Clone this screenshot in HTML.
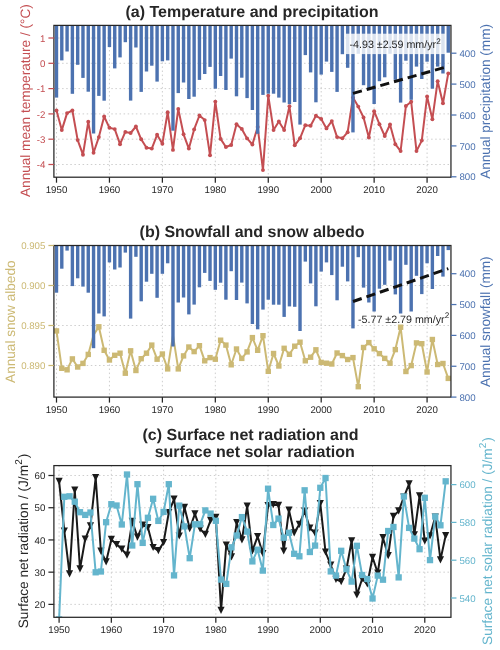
<!DOCTYPE html>
<html><head><meta charset="utf-8"><style>
html,body{margin:0;padding:0;background:#fff;width:500px;height:650px;overflow:hidden}
svg{display:block;font-family:"Liberation Sans",sans-serif;will-change:transform;text-rendering:geometricPrecision}
.grid{stroke:#c8c8c8;stroke-width:0.9;stroke-dasharray:1.5,2.6}
</style></head><body>
<svg width="500" height="650" viewBox="0 0 500 650">
<defs><clipPath id="ca"><rect x="53.9" y="25.4" width="397.05" height="151.80"/></clipPath><clipPath id="cb"><rect x="53.9" y="245.5" width="397.05" height="151.60"/></clipPath><clipPath id="cc"><rect x="53.9" y="465.6" width="397.05" height="151.70"/></clipPath></defs>
<text x="252" y="16.8" font-size="16" font-weight="bold" fill="#262626" text-anchor="middle">(a) Temperature and precipitation</text>
<line x1="56.50" y1="25.4" x2="56.50" y2="177.2" class="grid"/>
<line x1="109.44" y1="25.4" x2="109.44" y2="177.2" class="grid"/>
<line x1="162.38" y1="25.4" x2="162.38" y2="177.2" class="grid"/>
<line x1="215.32" y1="25.4" x2="215.32" y2="177.2" class="grid"/>
<line x1="268.26" y1="25.4" x2="268.26" y2="177.2" class="grid"/>
<line x1="321.20" y1="25.4" x2="321.20" y2="177.2" class="grid"/>
<line x1="374.14" y1="25.4" x2="374.14" y2="177.2" class="grid"/>
<line x1="427.08" y1="25.4" x2="427.08" y2="177.2" class="grid"/>
<line x1="53.9" y1="38.00" x2="450.95" y2="38.00" class="grid"/>
<line x1="53.9" y1="63.30" x2="450.95" y2="63.30" class="grid"/>
<line x1="53.9" y1="88.60" x2="450.95" y2="88.60" class="grid"/>
<line x1="53.9" y1="113.90" x2="450.95" y2="113.90" class="grid"/>
<line x1="53.9" y1="139.20" x2="450.95" y2="139.20" class="grid"/>
<line x1="53.9" y1="164.50" x2="450.95" y2="164.50" class="grid"/>
<polyline clip-path="url(#ca)" points="56.50,110.50 61.79,130.10 67.09,113.10 72.38,110.50 77.68,140.10 82.97,154.70 88.26,121.80 93.56,152.80 98.85,137.10 104.15,116.50 109.44,127.80 114.73,129.10 120.03,144.20 125.32,131.90 130.62,133.00 135.91,126.50 141.20,139.30 146.50,147.80 151.79,148.60 157.09,134.80 162.38,143.70 167.67,112.20 172.97,149.90 178.26,108.90 183.56,134.30 188.85,148.60 194.14,129.40 199.44,115.50 204.73,120.10 210.03,155.30 215.32,101.60 220.61,138.90 225.91,147.00 231.20,145.00 236.50,124.20 241.79,128.90 247.08,138.40 252.38,144.50 257.67,127.00 262.97,170.10 268.26,95.70 273.55,130.10 278.85,121.40 284.14,130.10 289.44,106.30 294.73,145.30 300.02,138.30 305.32,125.20 310.61,125.70 315.91,115.80 321.20,118.90 326.49,128.40 331.79,121.10 337.08,137.10 342.38,138.30 347.67,132.20 352.96,97.60 358.26,106.60 363.55,117.50 368.85,137.50 374.14,111.20 379.43,124.20 384.73,136.00 390.02,124.50 395.32,144.20 400.61,151.10 405.90,106.00 411.20,101.80 416.49,151.10 421.79,140.60 427.08,96.50 432.37,119.20 437.67,81.20 442.96,103.20 448.26,73.40" fill="none" stroke="#C44E52" stroke-width="2" stroke-linejoin="round"/>
<g clip-path="url(#ca)" fill="#C44E52">
<circle cx="56.50" cy="110.50" r="1.95"/>
<circle cx="61.79" cy="130.10" r="1.95"/>
<circle cx="67.09" cy="113.10" r="1.95"/>
<circle cx="72.38" cy="110.50" r="1.95"/>
<circle cx="77.68" cy="140.10" r="1.95"/>
<circle cx="82.97" cy="154.70" r="1.95"/>
<circle cx="88.26" cy="121.80" r="1.95"/>
<circle cx="93.56" cy="152.80" r="1.95"/>
<circle cx="98.85" cy="137.10" r="1.95"/>
<circle cx="104.15" cy="116.50" r="1.95"/>
<circle cx="109.44" cy="127.80" r="1.95"/>
<circle cx="114.73" cy="129.10" r="1.95"/>
<circle cx="120.03" cy="144.20" r="1.95"/>
<circle cx="125.32" cy="131.90" r="1.95"/>
<circle cx="130.62" cy="133.00" r="1.95"/>
<circle cx="135.91" cy="126.50" r="1.95"/>
<circle cx="141.20" cy="139.30" r="1.95"/>
<circle cx="146.50" cy="147.80" r="1.95"/>
<circle cx="151.79" cy="148.60" r="1.95"/>
<circle cx="157.09" cy="134.80" r="1.95"/>
<circle cx="162.38" cy="143.70" r="1.95"/>
<circle cx="167.67" cy="112.20" r="1.95"/>
<circle cx="172.97" cy="149.90" r="1.95"/>
<circle cx="178.26" cy="108.90" r="1.95"/>
<circle cx="183.56" cy="134.30" r="1.95"/>
<circle cx="188.85" cy="148.60" r="1.95"/>
<circle cx="194.14" cy="129.40" r="1.95"/>
<circle cx="199.44" cy="115.50" r="1.95"/>
<circle cx="204.73" cy="120.10" r="1.95"/>
<circle cx="210.03" cy="155.30" r="1.95"/>
<circle cx="215.32" cy="101.60" r="1.95"/>
<circle cx="220.61" cy="138.90" r="1.95"/>
<circle cx="225.91" cy="147.00" r="1.95"/>
<circle cx="231.20" cy="145.00" r="1.95"/>
<circle cx="236.50" cy="124.20" r="1.95"/>
<circle cx="241.79" cy="128.90" r="1.95"/>
<circle cx="247.08" cy="138.40" r="1.95"/>
<circle cx="252.38" cy="144.50" r="1.95"/>
<circle cx="257.67" cy="127.00" r="1.95"/>
<circle cx="262.97" cy="170.10" r="1.95"/>
<circle cx="268.26" cy="95.70" r="1.95"/>
<circle cx="273.55" cy="130.10" r="1.95"/>
<circle cx="278.85" cy="121.40" r="1.95"/>
<circle cx="284.14" cy="130.10" r="1.95"/>
<circle cx="289.44" cy="106.30" r="1.95"/>
<circle cx="294.73" cy="145.30" r="1.95"/>
<circle cx="300.02" cy="138.30" r="1.95"/>
<circle cx="305.32" cy="125.20" r="1.95"/>
<circle cx="310.61" cy="125.70" r="1.95"/>
<circle cx="315.91" cy="115.80" r="1.95"/>
<circle cx="321.20" cy="118.90" r="1.95"/>
<circle cx="326.49" cy="128.40" r="1.95"/>
<circle cx="331.79" cy="121.10" r="1.95"/>
<circle cx="337.08" cy="137.10" r="1.95"/>
<circle cx="342.38" cy="138.30" r="1.95"/>
<circle cx="347.67" cy="132.20" r="1.95"/>
<circle cx="352.96" cy="97.60" r="1.95"/>
<circle cx="358.26" cy="106.60" r="1.95"/>
<circle cx="363.55" cy="117.50" r="1.95"/>
<circle cx="368.85" cy="137.50" r="1.95"/>
<circle cx="374.14" cy="111.20" r="1.95"/>
<circle cx="379.43" cy="124.20" r="1.95"/>
<circle cx="384.73" cy="136.00" r="1.95"/>
<circle cx="390.02" cy="124.50" r="1.95"/>
<circle cx="395.32" cy="144.20" r="1.95"/>
<circle cx="400.61" cy="151.10" r="1.95"/>
<circle cx="405.90" cy="106.00" r="1.95"/>
<circle cx="411.20" cy="101.80" r="1.95"/>
<circle cx="416.49" cy="151.10" r="1.95"/>
<circle cx="421.79" cy="140.60" r="1.95"/>
<circle cx="427.08" cy="96.50" r="1.95"/>
<circle cx="432.37" cy="119.20" r="1.95"/>
<circle cx="437.67" cy="81.20" r="1.95"/>
<circle cx="442.96" cy="103.20" r="1.95"/>
<circle cx="448.26" cy="73.40" r="1.95"/>
</g>
<g clip-path="url(#ca)" fill="#4C72B0">
<rect x="54.80" y="23.4" width="3.4" height="74.20"/>
<rect x="60.09" y="23.4" width="3.4" height="37.00"/>
<rect x="65.39" y="23.4" width="3.4" height="28.10"/>
<rect x="70.68" y="23.4" width="3.4" height="70.40"/>
<rect x="75.98" y="23.4" width="3.4" height="41.40"/>
<rect x="81.27" y="23.4" width="3.4" height="54.50"/>
<rect x="86.56" y="23.4" width="3.4" height="68.30"/>
<rect x="91.86" y="23.4" width="3.4" height="110.10"/>
<rect x="97.15" y="23.4" width="3.4" height="72.50"/>
<rect x="102.45" y="23.4" width="3.4" height="77.30"/>
<rect x="107.74" y="23.4" width="3.4" height="23.70"/>
<rect x="113.03" y="23.4" width="3.4" height="45.00"/>
<rect x="118.33" y="23.4" width="3.4" height="34.00"/>
<rect x="123.62" y="23.4" width="3.4" height="18.80"/>
<rect x="128.92" y="23.4" width="3.4" height="77.20"/>
<rect x="134.21" y="23.4" width="3.4" height="24.10"/>
<rect x="139.50" y="23.4" width="3.4" height="68.50"/>
<rect x="144.80" y="23.4" width="3.4" height="48.10"/>
<rect x="150.09" y="23.4" width="3.4" height="42.30"/>
<rect x="155.39" y="23.4" width="3.4" height="58.20"/>
<rect x="160.68" y="23.4" width="3.4" height="37.90"/>
<rect x="165.97" y="23.4" width="3.4" height="37.00"/>
<rect x="171.27" y="23.4" width="3.4" height="107.30"/>
<rect x="176.56" y="23.4" width="3.4" height="69.70"/>
<rect x="181.86" y="23.4" width="3.4" height="59.10"/>
<rect x="187.15" y="23.4" width="3.4" height="75.60"/>
<rect x="192.44" y="23.4" width="3.4" height="73.30"/>
<rect x="197.74" y="23.4" width="3.4" height="56.50"/>
<rect x="203.03" y="23.4" width="3.4" height="50.60"/>
<rect x="208.33" y="23.4" width="3.4" height="43.50"/>
<rect x="213.62" y="23.4" width="3.4" height="65.30"/>
<rect x="218.91" y="23.4" width="3.4" height="52.60"/>
<rect x="224.21" y="23.4" width="3.4" height="66.60"/>
<rect x="229.50" y="23.4" width="3.4" height="35.20"/>
<rect x="234.80" y="23.4" width="3.4" height="72.90"/>
<rect x="240.09" y="23.4" width="3.4" height="54.30"/>
<rect x="245.38" y="23.4" width="3.4" height="74.70"/>
<rect x="250.68" y="23.4" width="3.4" height="86.60"/>
<rect x="255.97" y="23.4" width="3.4" height="110.40"/>
<rect x="261.27" y="23.4" width="3.4" height="71.50"/>
<rect x="266.56" y="23.4" width="3.4" height="70.30"/>
<rect x="271.85" y="23.4" width="3.4" height="70.30"/>
<rect x="277.15" y="23.4" width="3.4" height="74.20"/>
<rect x="282.44" y="23.4" width="3.4" height="79.10"/>
<rect x="287.74" y="23.4" width="3.4" height="80.70"/>
<rect x="293.03" y="23.4" width="3.4" height="78.60"/>
<rect x="298.32" y="23.4" width="3.4" height="101.20"/>
<rect x="303.62" y="23.4" width="3.4" height="31.70"/>
<rect x="308.91" y="23.4" width="3.4" height="49.00"/>
<rect x="314.21" y="23.4" width="3.4" height="78.90"/>
<rect x="319.50" y="23.4" width="3.4" height="51.20"/>
<rect x="324.79" y="23.4" width="3.4" height="38.20"/>
<rect x="330.09" y="23.4" width="3.4" height="48.50"/>
<rect x="335.38" y="23.4" width="3.4" height="68.50"/>
<rect x="340.68" y="23.4" width="3.4" height="30.80"/>
<rect x="345.97" y="23.4" width="3.4" height="44.40"/>
<rect x="351.26" y="23.4" width="3.4" height="109.00"/>
<rect x="356.56" y="23.4" width="3.4" height="30.40"/>
<rect x="361.85" y="23.4" width="3.4" height="61.80"/>
<rect x="367.15" y="23.4" width="3.4" height="66.80"/>
<rect x="372.44" y="23.4" width="3.4" height="80.60"/>
<rect x="377.73" y="23.4" width="3.4" height="57.80"/>
<rect x="383.03" y="23.4" width="3.4" height="53.90"/>
<rect x="388.32" y="23.4" width="3.4" height="30.40"/>
<rect x="393.62" y="23.4" width="3.4" height="56.40"/>
<rect x="398.91" y="23.4" width="3.4" height="79.20"/>
<rect x="404.20" y="23.4" width="3.4" height="37.30"/>
<rect x="409.50" y="23.4" width="3.4" height="76.40"/>
<rect x="414.79" y="23.4" width="3.4" height="43.20"/>
<rect x="420.09" y="23.4" width="3.4" height="55.60"/>
<rect x="425.38" y="23.4" width="3.4" height="38.30"/>
<rect x="430.67" y="23.4" width="3.4" height="65.30"/>
<rect x="435.97" y="23.4" width="3.4" height="43.20"/>
<rect x="441.26" y="23.4" width="3.4" height="50.10"/>
<rect x="446.56" y="23.4" width="3.4" height="29.30"/>
</g>
<line x1="353.0" y1="93.35" x2="448.3" y2="66.3" stroke="#111" stroke-width="3" stroke-dasharray="9.2,5.0"/>
<rect x="345.3" y="33.7" width="100" height="20.4" fill="#fff" fill-opacity="0.8"/>
<text x="349.5" y="48.2" font-size="10.7" fill="#262626">-4.93 ±2.59 mm/yr<tspan font-size="8.2" dy="-4.5">2</tspan></text>
<rect x="53.9" y="25.4" width="397.05" height="151.80" fill="none" stroke="#262626" stroke-width="1.25"/>
<line x1="56.50" y1="177.2" x2="56.50" y2="182.7" stroke="#262626" stroke-width="1.25"/>
<text x="56.50" y="193.0" font-size="9.7" fill="#262626" text-anchor="middle">1950</text>
<line x1="109.44" y1="177.2" x2="109.44" y2="182.7" stroke="#262626" stroke-width="1.25"/>
<text x="109.44" y="193.0" font-size="9.7" fill="#262626" text-anchor="middle">1960</text>
<line x1="162.38" y1="177.2" x2="162.38" y2="182.7" stroke="#262626" stroke-width="1.25"/>
<text x="162.38" y="193.0" font-size="9.7" fill="#262626" text-anchor="middle">1970</text>
<line x1="215.32" y1="177.2" x2="215.32" y2="182.7" stroke="#262626" stroke-width="1.25"/>
<text x="215.32" y="193.0" font-size="9.7" fill="#262626" text-anchor="middle">1980</text>
<line x1="268.26" y1="177.2" x2="268.26" y2="182.7" stroke="#262626" stroke-width="1.25"/>
<text x="268.26" y="193.0" font-size="9.7" fill="#262626" text-anchor="middle">1990</text>
<line x1="321.20" y1="177.2" x2="321.20" y2="182.7" stroke="#262626" stroke-width="1.25"/>
<text x="321.20" y="193.0" font-size="9.7" fill="#262626" text-anchor="middle">2000</text>
<line x1="374.14" y1="177.2" x2="374.14" y2="182.7" stroke="#262626" stroke-width="1.25"/>
<text x="374.14" y="193.0" font-size="9.7" fill="#262626" text-anchor="middle">2010</text>
<line x1="427.08" y1="177.2" x2="427.08" y2="182.7" stroke="#262626" stroke-width="1.25"/>
<text x="427.08" y="193.0" font-size="9.7" fill="#262626" text-anchor="middle">2020</text>
<line x1="48.4" y1="38.00" x2="53.9" y2="38.00" stroke="#C44E52" stroke-width="1.25"/>
<text x="45.4" y="41.60" font-size="9.7" fill="#C44E52" text-anchor="end">1</text>
<line x1="48.4" y1="63.30" x2="53.9" y2="63.30" stroke="#C44E52" stroke-width="1.25"/>
<text x="45.4" y="66.90" font-size="9.7" fill="#C44E52" text-anchor="end">0</text>
<line x1="48.4" y1="88.60" x2="53.9" y2="88.60" stroke="#C44E52" stroke-width="1.25"/>
<text x="45.4" y="92.20" font-size="9.7" fill="#C44E52" text-anchor="end">-1</text>
<line x1="48.4" y1="113.90" x2="53.9" y2="113.90" stroke="#C44E52" stroke-width="1.25"/>
<text x="45.4" y="117.50" font-size="9.7" fill="#C44E52" text-anchor="end">-2</text>
<line x1="48.4" y1="139.20" x2="53.9" y2="139.20" stroke="#C44E52" stroke-width="1.25"/>
<text x="45.4" y="142.80" font-size="9.7" fill="#C44E52" text-anchor="end">-3</text>
<line x1="48.4" y1="164.50" x2="53.9" y2="164.50" stroke="#C44E52" stroke-width="1.25"/>
<text x="45.4" y="168.10" font-size="9.7" fill="#C44E52" text-anchor="end">-4</text>
<line x1="450.95" y1="53.20" x2="456.45" y2="53.20" stroke="#4C72B0" stroke-width="1.25"/>
<text x="459.45" y="56.80" font-size="9.7" fill="#4C72B0" text-anchor="start">400</text>
<line x1="450.95" y1="84.10" x2="456.45" y2="84.10" stroke="#4C72B0" stroke-width="1.25"/>
<text x="459.45" y="87.70" font-size="9.7" fill="#4C72B0" text-anchor="start">500</text>
<line x1="450.95" y1="115.00" x2="456.45" y2="115.00" stroke="#4C72B0" stroke-width="1.25"/>
<text x="459.45" y="118.60" font-size="9.7" fill="#4C72B0" text-anchor="start">600</text>
<line x1="450.95" y1="145.90" x2="456.45" y2="145.90" stroke="#4C72B0" stroke-width="1.25"/>
<text x="459.45" y="149.50" font-size="9.7" fill="#4C72B0" text-anchor="start">700</text>
<line x1="450.95" y1="176.80" x2="456.45" y2="176.80" stroke="#4C72B0" stroke-width="1.25"/>
<text x="459.45" y="180.40" font-size="9.7" fill="#4C72B0" text-anchor="start">800</text>
<text x="30.4" y="100.6" font-size="13.6" fill="#C44E52" text-anchor="middle" transform="rotate(-90 30.4 100.6)">Annual mean temperature / (°C)</text>
<text x="490" y="101.4" font-size="13.6" fill="#4C72B0" text-anchor="middle" transform="rotate(-90 490 101.4)">Annual precipitation (mm)</text>
<text x="252" y="236.9" font-size="16" font-weight="bold" fill="#262626" text-anchor="middle">(b) Snowfall and snow albedo</text>
<line x1="56.50" y1="245.5" x2="56.50" y2="397.1" class="grid"/>
<line x1="109.44" y1="245.5" x2="109.44" y2="397.1" class="grid"/>
<line x1="162.38" y1="245.5" x2="162.38" y2="397.1" class="grid"/>
<line x1="215.32" y1="245.5" x2="215.32" y2="397.1" class="grid"/>
<line x1="268.26" y1="245.5" x2="268.26" y2="397.1" class="grid"/>
<line x1="321.20" y1="245.5" x2="321.20" y2="397.1" class="grid"/>
<line x1="374.14" y1="245.5" x2="374.14" y2="397.1" class="grid"/>
<line x1="427.08" y1="245.5" x2="427.08" y2="397.1" class="grid"/>
<line x1="53.9" y1="245.50" x2="450.95" y2="245.50" class="grid"/>
<line x1="53.9" y1="285.50" x2="450.95" y2="285.50" class="grid"/>
<line x1="53.9" y1="325.50" x2="450.95" y2="325.50" class="grid"/>
<line x1="53.9" y1="365.50" x2="450.95" y2="365.50" class="grid"/>
<polyline clip-path="url(#cb)" points="56.50,330.90 61.79,368.30 67.09,369.80 72.38,358.90 77.68,367.00 82.97,363.40 88.26,354.40 93.56,335.00 98.85,326.80 104.15,350.30 109.44,360.00 114.73,355.30 120.03,353.20 125.32,373.20 130.62,350.80 135.91,370.50 141.20,358.70 146.50,353.20 151.79,345.10 157.09,359.20 162.38,354.00 167.67,368.90 172.97,335.40 178.26,368.90 183.56,355.90 188.85,347.00 194.14,351.60 199.44,345.70 204.73,360.80 210.03,357.60 215.32,359.20 220.61,340.20 225.91,345.10 231.20,364.80 236.50,349.00 241.79,358.40 247.08,351.90 252.38,337.60 257.67,350.30 262.97,335.70 268.26,371.30 273.55,353.50 278.85,366.00 284.14,348.30 289.44,354.30 294.73,346.20 300.02,342.20 305.32,360.80 310.61,357.20 315.91,349.80 321.20,362.40 326.49,363.20 331.79,364.00 337.08,353.00 342.38,355.60 347.67,359.50 352.96,357.60 358.26,386.70 363.55,347.50 368.85,342.60 374.14,348.80 379.43,353.60 384.73,358.40 390.02,363.20 395.32,349.60 400.61,327.20 405.90,371.50 411.20,365.60 416.49,342.90 421.79,343.70 427.08,372.00 432.37,339.50 437.67,364.50 442.96,363.50 448.26,378.40" fill="none" stroke="#CCB974" stroke-width="2" stroke-linejoin="round"/>
<g clip-path="url(#cb)" fill="#CCB974">
<rect x="53.80" y="328.20" width="5.4" height="5.4"/>
<rect x="59.09" y="365.60" width="5.4" height="5.4"/>
<rect x="64.39" y="367.10" width="5.4" height="5.4"/>
<rect x="69.68" y="356.20" width="5.4" height="5.4"/>
<rect x="74.98" y="364.30" width="5.4" height="5.4"/>
<rect x="80.27" y="360.70" width="5.4" height="5.4"/>
<rect x="85.56" y="351.70" width="5.4" height="5.4"/>
<rect x="96.15" y="324.10" width="5.4" height="5.4"/>
<rect x="101.45" y="347.60" width="5.4" height="5.4"/>
<rect x="106.74" y="357.30" width="5.4" height="5.4"/>
<rect x="112.03" y="352.60" width="5.4" height="5.4"/>
<rect x="117.33" y="350.50" width="5.4" height="5.4"/>
<rect x="122.62" y="370.50" width="5.4" height="5.4"/>
<rect x="127.92" y="348.10" width="5.4" height="5.4"/>
<rect x="133.21" y="367.80" width="5.4" height="5.4"/>
<rect x="138.50" y="356.00" width="5.4" height="5.4"/>
<rect x="143.80" y="350.50" width="5.4" height="5.4"/>
<rect x="149.09" y="342.40" width="5.4" height="5.4"/>
<rect x="154.39" y="356.50" width="5.4" height="5.4"/>
<rect x="159.68" y="351.30" width="5.4" height="5.4"/>
<rect x="164.97" y="366.20" width="5.4" height="5.4"/>
<rect x="175.56" y="366.20" width="5.4" height="5.4"/>
<rect x="180.86" y="353.20" width="5.4" height="5.4"/>
<rect x="186.15" y="344.30" width="5.4" height="5.4"/>
<rect x="191.44" y="348.90" width="5.4" height="5.4"/>
<rect x="196.74" y="343.00" width="5.4" height="5.4"/>
<rect x="202.03" y="358.10" width="5.4" height="5.4"/>
<rect x="207.33" y="354.90" width="5.4" height="5.4"/>
<rect x="212.62" y="356.50" width="5.4" height="5.4"/>
<rect x="217.91" y="337.50" width="5.4" height="5.4"/>
<rect x="223.21" y="342.40" width="5.4" height="5.4"/>
<rect x="228.50" y="362.10" width="5.4" height="5.4"/>
<rect x="233.80" y="346.30" width="5.4" height="5.4"/>
<rect x="239.09" y="355.70" width="5.4" height="5.4"/>
<rect x="244.38" y="349.20" width="5.4" height="5.4"/>
<rect x="249.68" y="334.90" width="5.4" height="5.4"/>
<rect x="254.97" y="347.60" width="5.4" height="5.4"/>
<rect x="260.27" y="333.00" width="5.4" height="5.4"/>
<rect x="265.56" y="368.60" width="5.4" height="5.4"/>
<rect x="270.85" y="350.80" width="5.4" height="5.4"/>
<rect x="276.15" y="363.30" width="5.4" height="5.4"/>
<rect x="281.44" y="345.60" width="5.4" height="5.4"/>
<rect x="286.74" y="351.60" width="5.4" height="5.4"/>
<rect x="292.03" y="343.50" width="5.4" height="5.4"/>
<rect x="297.32" y="339.50" width="5.4" height="5.4"/>
<rect x="302.62" y="358.10" width="5.4" height="5.4"/>
<rect x="307.91" y="354.50" width="5.4" height="5.4"/>
<rect x="313.21" y="347.10" width="5.4" height="5.4"/>
<rect x="318.50" y="359.70" width="5.4" height="5.4"/>
<rect x="323.79" y="360.50" width="5.4" height="5.4"/>
<rect x="329.09" y="361.30" width="5.4" height="5.4"/>
<rect x="334.38" y="350.30" width="5.4" height="5.4"/>
<rect x="339.68" y="352.90" width="5.4" height="5.4"/>
<rect x="344.97" y="356.80" width="5.4" height="5.4"/>
<rect x="350.26" y="354.90" width="5.4" height="5.4"/>
<rect x="355.56" y="384.00" width="5.4" height="5.4"/>
<rect x="360.85" y="344.80" width="5.4" height="5.4"/>
<rect x="366.15" y="339.90" width="5.4" height="5.4"/>
<rect x="371.44" y="346.10" width="5.4" height="5.4"/>
<rect x="376.73" y="350.90" width="5.4" height="5.4"/>
<rect x="382.03" y="355.70" width="5.4" height="5.4"/>
<rect x="387.32" y="360.50" width="5.4" height="5.4"/>
<rect x="392.62" y="346.90" width="5.4" height="5.4"/>
<rect x="397.91" y="324.50" width="5.4" height="5.4"/>
<rect x="403.20" y="368.80" width="5.4" height="5.4"/>
<rect x="408.50" y="362.90" width="5.4" height="5.4"/>
<rect x="413.79" y="340.20" width="5.4" height="5.4"/>
<rect x="419.09" y="341.00" width="5.4" height="5.4"/>
<rect x="424.38" y="369.30" width="5.4" height="5.4"/>
<rect x="429.67" y="336.80" width="5.4" height="5.4"/>
<rect x="434.97" y="361.80" width="5.4" height="5.4"/>
<rect x="440.26" y="360.80" width="5.4" height="5.4"/>
<rect x="445.56" y="375.70" width="5.4" height="5.4"/>
</g>
<g clip-path="url(#cb)" fill="#4C72B0">
<rect x="54.80" y="243.5" width="3.4" height="49.20"/>
<rect x="60.09" y="243.5" width="3.4" height="25.20"/>
<rect x="65.39" y="243.5" width="3.4" height="7.10"/>
<rect x="70.68" y="243.5" width="3.4" height="42.60"/>
<rect x="75.98" y="243.5" width="3.4" height="34.80"/>
<rect x="81.27" y="243.5" width="3.4" height="43.10"/>
<rect x="86.56" y="243.5" width="3.4" height="49.20"/>
<rect x="91.86" y="243.5" width="3.4" height="104.70"/>
<rect x="97.15" y="243.5" width="3.4" height="70.00"/>
<rect x="102.45" y="243.5" width="3.4" height="72.90"/>
<rect x="107.74" y="243.5" width="3.4" height="18.90"/>
<rect x="113.03" y="243.5" width="3.4" height="26.00"/>
<rect x="118.33" y="243.5" width="3.4" height="24.00"/>
<rect x="123.62" y="243.5" width="3.4" height="9.10"/>
<rect x="128.92" y="243.5" width="3.4" height="75.10"/>
<rect x="134.21" y="243.5" width="3.4" height="13.30"/>
<rect x="139.50" y="243.5" width="3.4" height="57.80"/>
<rect x="144.80" y="243.5" width="3.4" height="38.20"/>
<rect x="150.09" y="243.5" width="3.4" height="30.30"/>
<rect x="155.39" y="243.5" width="3.4" height="54.30"/>
<rect x="160.68" y="243.5" width="3.4" height="30.30"/>
<rect x="165.97" y="243.5" width="3.4" height="19.80"/>
<rect x="171.27" y="243.5" width="3.4" height="103.00"/>
<rect x="176.56" y="243.5" width="3.4" height="59.00"/>
<rect x="181.86" y="243.5" width="3.4" height="54.00"/>
<rect x="187.15" y="243.5" width="3.4" height="70.90"/>
<rect x="192.44" y="243.5" width="3.4" height="61.10"/>
<rect x="197.74" y="243.5" width="3.4" height="43.80"/>
<rect x="203.03" y="243.5" width="3.4" height="29.40"/>
<rect x="208.33" y="243.5" width="3.4" height="37.40"/>
<rect x="213.62" y="243.5" width="3.4" height="46.30"/>
<rect x="218.91" y="243.5" width="3.4" height="39.20"/>
<rect x="224.21" y="243.5" width="3.4" height="56.20"/>
<rect x="229.50" y="243.5" width="3.4" height="27.70"/>
<rect x="234.80" y="243.5" width="3.4" height="56.50"/>
<rect x="240.09" y="243.5" width="3.4" height="39.10"/>
<rect x="245.38" y="243.5" width="3.4" height="59.90"/>
<rect x="250.68" y="243.5" width="3.4" height="80.50"/>
<rect x="255.97" y="243.5" width="3.4" height="85.80"/>
<rect x="261.27" y="243.5" width="3.4" height="66.10"/>
<rect x="266.56" y="243.5" width="3.4" height="56.20"/>
<rect x="271.85" y="243.5" width="3.4" height="61.20"/>
<rect x="277.15" y="243.5" width="3.4" height="61.20"/>
<rect x="282.44" y="243.5" width="3.4" height="73.40"/>
<rect x="287.74" y="243.5" width="3.4" height="62.90"/>
<rect x="293.03" y="243.5" width="3.4" height="63.30"/>
<rect x="298.32" y="243.5" width="3.4" height="87.50"/>
<rect x="303.62" y="243.5" width="3.4" height="18.10"/>
<rect x="308.91" y="243.5" width="3.4" height="39.90"/>
<rect x="314.21" y="243.5" width="3.4" height="62.80"/>
<rect x="319.50" y="243.5" width="3.4" height="28.10"/>
<rect x="324.79" y="243.5" width="3.4" height="18.90"/>
<rect x="330.09" y="243.5" width="3.4" height="31.60"/>
<rect x="335.38" y="243.5" width="3.4" height="56.80"/>
<rect x="340.68" y="243.5" width="3.4" height="23.20"/>
<rect x="345.97" y="243.5" width="3.4" height="37.90"/>
<rect x="351.26" y="243.5" width="3.4" height="84.90"/>
<rect x="356.56" y="243.5" width="3.4" height="13.70"/>
<rect x="361.85" y="243.5" width="3.4" height="44.10"/>
<rect x="367.15" y="243.5" width="3.4" height="59.00"/>
<rect x="372.44" y="243.5" width="3.4" height="68.00"/>
<rect x="377.73" y="243.5" width="3.4" height="45.20"/>
<rect x="383.03" y="243.5" width="3.4" height="41.30"/>
<rect x="388.32" y="243.5" width="3.4" height="17.10"/>
<rect x="393.62" y="243.5" width="3.4" height="50.90"/>
<rect x="398.91" y="243.5" width="3.4" height="70.00"/>
<rect x="404.20" y="243.5" width="3.4" height="21.30"/>
<rect x="409.50" y="243.5" width="3.4" height="68.00"/>
<rect x="414.79" y="243.5" width="3.4" height="32.30"/>
<rect x="420.09" y="243.5" width="3.4" height="50.60"/>
<rect x="425.38" y="243.5" width="3.4" height="19.80"/>
<rect x="430.67" y="243.5" width="3.4" height="45.50"/>
<rect x="435.97" y="243.5" width="3.4" height="12.50"/>
<rect x="441.26" y="243.5" width="3.4" height="33.10"/>
<rect x="446.56" y="243.5" width="3.4" height="6.60"/>
</g>
<line x1="353.0" y1="301.5" x2="448.3" y2="268.6" stroke="#111" stroke-width="3" stroke-dasharray="9.2,5.0"/>
<text x="358" y="322.6" font-size="10.7" fill="#262626">-5.77 ±2.79 mm/yr<tspan font-size="8.2" dy="-4.5">2</tspan></text>
<rect x="53.9" y="245.5" width="397.05" height="151.60" fill="none" stroke="#262626" stroke-width="1.25"/>
<line x1="56.50" y1="397.1" x2="56.50" y2="402.6" stroke="#262626" stroke-width="1.25"/>
<text x="56.50" y="413.0" font-size="9.7" fill="#262626" text-anchor="middle">1950</text>
<line x1="109.44" y1="397.1" x2="109.44" y2="402.6" stroke="#262626" stroke-width="1.25"/>
<text x="109.44" y="413.0" font-size="9.7" fill="#262626" text-anchor="middle">1960</text>
<line x1="162.38" y1="397.1" x2="162.38" y2="402.6" stroke="#262626" stroke-width="1.25"/>
<text x="162.38" y="413.0" font-size="9.7" fill="#262626" text-anchor="middle">1970</text>
<line x1="215.32" y1="397.1" x2="215.32" y2="402.6" stroke="#262626" stroke-width="1.25"/>
<text x="215.32" y="413.0" font-size="9.7" fill="#262626" text-anchor="middle">1980</text>
<line x1="268.26" y1="397.1" x2="268.26" y2="402.6" stroke="#262626" stroke-width="1.25"/>
<text x="268.26" y="413.0" font-size="9.7" fill="#262626" text-anchor="middle">1990</text>
<line x1="321.20" y1="397.1" x2="321.20" y2="402.6" stroke="#262626" stroke-width="1.25"/>
<text x="321.20" y="413.0" font-size="9.7" fill="#262626" text-anchor="middle">2000</text>
<line x1="374.14" y1="397.1" x2="374.14" y2="402.6" stroke="#262626" stroke-width="1.25"/>
<text x="374.14" y="413.0" font-size="9.7" fill="#262626" text-anchor="middle">2010</text>
<line x1="427.08" y1="397.1" x2="427.08" y2="402.6" stroke="#262626" stroke-width="1.25"/>
<text x="427.08" y="413.0" font-size="9.7" fill="#262626" text-anchor="middle">2020</text>
<line x1="48.4" y1="245.50" x2="53.9" y2="245.50" stroke="#CCB974" stroke-width="1.25"/>
<text x="45.4" y="249.10" font-size="9.7" fill="#CCB974" text-anchor="end">0.905</text>
<line x1="48.4" y1="285.50" x2="53.9" y2="285.50" stroke="#CCB974" stroke-width="1.25"/>
<text x="45.4" y="289.10" font-size="9.7" fill="#CCB974" text-anchor="end">0.900</text>
<line x1="48.4" y1="325.50" x2="53.9" y2="325.50" stroke="#CCB974" stroke-width="1.25"/>
<text x="45.4" y="329.10" font-size="9.7" fill="#CCB974" text-anchor="end">0.895</text>
<line x1="48.4" y1="365.50" x2="53.9" y2="365.50" stroke="#CCB974" stroke-width="1.25"/>
<text x="45.4" y="369.10" font-size="9.7" fill="#CCB974" text-anchor="end">0.890</text>
<line x1="450.95" y1="273.70" x2="456.45" y2="273.70" stroke="#4C72B0" stroke-width="1.25"/>
<text x="459.45" y="277.30" font-size="9.7" fill="#4C72B0" text-anchor="start">400</text>
<line x1="450.95" y1="304.55" x2="456.45" y2="304.55" stroke="#4C72B0" stroke-width="1.25"/>
<text x="459.45" y="308.15" font-size="9.7" fill="#4C72B0" text-anchor="start">500</text>
<line x1="450.95" y1="335.40" x2="456.45" y2="335.40" stroke="#4C72B0" stroke-width="1.25"/>
<text x="459.45" y="339.00" font-size="9.7" fill="#4C72B0" text-anchor="start">600</text>
<line x1="450.95" y1="366.25" x2="456.45" y2="366.25" stroke="#4C72B0" stroke-width="1.25"/>
<text x="459.45" y="369.85" font-size="9.7" fill="#4C72B0" text-anchor="start">700</text>
<line x1="450.95" y1="397.10" x2="456.45" y2="397.10" stroke="#4C72B0" stroke-width="1.25"/>
<text x="459.45" y="400.70" font-size="9.7" fill="#4C72B0" text-anchor="start">800</text>
<text x="14.8" y="321.7" font-size="13.6" fill="#CCB974" text-anchor="middle" transform="rotate(-90 14.8 321.7)">Annual snow albedo</text>
<text x="490" y="321.7" font-size="13.6" fill="#4C72B0" text-anchor="middle" transform="rotate(-90 490 321.7)">Annual snowfall (mm)</text>
<text x="250.5" y="439.6" font-size="16" font-weight="bold" fill="#262626" text-anchor="middle">(c) Surface net radiation and</text>
<text x="254.7" y="457.2" font-size="16" font-weight="bold" fill="#262626" text-anchor="middle">surface net solar radiation</text>
<line x1="59.10" y1="465.6" x2="59.10" y2="617.3" class="grid"/>
<line x1="111.34" y1="465.6" x2="111.34" y2="617.3" class="grid"/>
<line x1="163.58" y1="465.6" x2="163.58" y2="617.3" class="grid"/>
<line x1="215.82" y1="465.6" x2="215.82" y2="617.3" class="grid"/>
<line x1="268.06" y1="465.6" x2="268.06" y2="617.3" class="grid"/>
<line x1="320.30" y1="465.6" x2="320.30" y2="617.3" class="grid"/>
<line x1="372.54" y1="465.6" x2="372.54" y2="617.3" class="grid"/>
<line x1="424.78" y1="465.6" x2="424.78" y2="617.3" class="grid"/>
<line x1="53.9" y1="475.50" x2="450.95" y2="475.50" class="grid"/>
<line x1="53.9" y1="507.72" x2="450.95" y2="507.72" class="grid"/>
<line x1="53.9" y1="539.94" x2="450.95" y2="539.94" class="grid"/>
<line x1="53.9" y1="572.16" x2="450.95" y2="572.16" class="grid"/>
<line x1="53.9" y1="604.38" x2="450.95" y2="604.38" class="grid"/>
<polyline clip-path="url(#cc)" points="59.10,481.40 64.32,531.00 69.55,573.80 74.77,490.20 80.00,568.90 85.22,539.00 90.44,525.90 95.67,477.50 100.89,551.20 106.12,561.80 111.34,539.40 116.56,544.50 121.79,549.10 127.01,555.20 132.24,521.40 137.46,537.10 142.68,525.20 147.91,527.50 153.13,547.50 158.36,550.60 163.58,542.50 168.80,512.50 174.03,499.00 179.25,536.00 184.48,507.30 189.70,528.60 194.92,513.90 200.15,529.00 205.37,534.40 210.60,520.40 215.82,517.30 221.04,610.40 226.27,545.00 231.49,556.80 236.72,522.70 241.94,539.80 247.16,506.10 252.39,550.90 257.61,536.50 262.84,553.50 268.06,505.70 273.28,504.70 278.51,505.30 283.73,551.00 288.96,510.20 294.18,532.80 299.40,524.40 304.63,511.20 309.85,528.10 315.08,533.20 320.30,503.50 325.52,552.00 330.75,565.20 335.97,579.40 341.20,581.70 346.42,569.20 351.64,540.80 356.87,595.00 362.09,579.00 367.32,584.00 372.54,557.30 377.76,573.00 382.99,537.70 388.21,555.70 393.44,516.40 398.66,510.90 403.88,497.10 409.11,483.80 414.33,534.80 419.56,495.80 424.78,541.00 430.00,535.80 435.23,517.00 440.45,559.80 445.68,535.60" fill="none" stroke="#1a1a1a" stroke-width="2" stroke-linejoin="round"/>
<g clip-path="url(#cc)" fill="#1a1a1a">
<path d="M55.50,477.80L62.70,477.80L59.10,485.00Z"/>
<path d="M60.72,527.40L67.92,527.40L64.32,534.60Z"/>
<path d="M65.95,570.20L73.15,570.20L69.55,577.40Z"/>
<path d="M71.17,486.60L78.37,486.60L74.77,493.80Z"/>
<path d="M76.40,565.30L83.60,565.30L80.00,572.50Z"/>
<path d="M81.62,535.40L88.82,535.40L85.22,542.60Z"/>
<path d="M86.84,522.30L94.04,522.30L90.44,529.50Z"/>
<path d="M92.07,473.90L99.27,473.90L95.67,481.10Z"/>
<path d="M97.29,547.60L104.49,547.60L100.89,554.80Z"/>
<path d="M102.52,558.20L109.72,558.20L106.12,565.40Z"/>
<path d="M107.74,535.80L114.94,535.80L111.34,543.00Z"/>
<path d="M112.96,540.90L120.16,540.90L116.56,548.10Z"/>
<path d="M118.19,545.50L125.39,545.50L121.79,552.70Z"/>
<path d="M123.41,551.60L130.61,551.60L127.01,558.80Z"/>
<path d="M128.64,517.80L135.84,517.80L132.24,525.00Z"/>
<path d="M133.86,533.50L141.06,533.50L137.46,540.70Z"/>
<path d="M139.08,521.60L146.28,521.60L142.68,528.80Z"/>
<path d="M144.31,523.90L151.51,523.90L147.91,531.10Z"/>
<path d="M149.53,543.90L156.73,543.90L153.13,551.10Z"/>
<path d="M154.76,547.00L161.96,547.00L158.36,554.20Z"/>
<path d="M159.98,538.90L167.18,538.90L163.58,546.10Z"/>
<path d="M165.20,508.90L172.40,508.90L168.80,516.10Z"/>
<path d="M170.43,495.40L177.63,495.40L174.03,502.60Z"/>
<path d="M175.65,532.40L182.85,532.40L179.25,539.60Z"/>
<path d="M180.88,503.70L188.08,503.70L184.48,510.90Z"/>
<path d="M186.10,525.00L193.30,525.00L189.70,532.20Z"/>
<path d="M191.32,510.30L198.52,510.30L194.92,517.50Z"/>
<path d="M196.55,525.40L203.75,525.40L200.15,532.60Z"/>
<path d="M201.77,530.80L208.97,530.80L205.37,538.00Z"/>
<path d="M207.00,516.80L214.20,516.80L210.60,524.00Z"/>
<path d="M212.22,513.70L219.42,513.70L215.82,520.90Z"/>
<path d="M217.44,606.80L224.64,606.80L221.04,614.00Z"/>
<path d="M222.67,541.40L229.87,541.40L226.27,548.60Z"/>
<path d="M227.89,553.20L235.09,553.20L231.49,560.40Z"/>
<path d="M233.12,519.10L240.32,519.10L236.72,526.30Z"/>
<path d="M238.34,536.20L245.54,536.20L241.94,543.40Z"/>
<path d="M243.56,502.50L250.76,502.50L247.16,509.70Z"/>
<path d="M248.79,547.30L255.99,547.30L252.39,554.50Z"/>
<path d="M254.01,532.90L261.21,532.90L257.61,540.10Z"/>
<path d="M259.24,549.90L266.44,549.90L262.84,557.10Z"/>
<path d="M264.46,502.10L271.66,502.10L268.06,509.30Z"/>
<path d="M269.68,501.10L276.88,501.10L273.28,508.30Z"/>
<path d="M274.91,501.70L282.11,501.70L278.51,508.90Z"/>
<path d="M280.13,547.40L287.33,547.40L283.73,554.60Z"/>
<path d="M285.36,506.60L292.56,506.60L288.96,513.80Z"/>
<path d="M290.58,529.20L297.78,529.20L294.18,536.40Z"/>
<path d="M295.80,520.80L303.00,520.80L299.40,528.00Z"/>
<path d="M301.03,507.60L308.23,507.60L304.63,514.80Z"/>
<path d="M306.25,524.50L313.45,524.50L309.85,531.70Z"/>
<path d="M311.48,529.60L318.68,529.60L315.08,536.80Z"/>
<path d="M316.70,499.90L323.90,499.90L320.30,507.10Z"/>
<path d="M321.92,548.40L329.12,548.40L325.52,555.60Z"/>
<path d="M327.15,561.60L334.35,561.60L330.75,568.80Z"/>
<path d="M332.37,575.80L339.57,575.80L335.97,583.00Z"/>
<path d="M337.60,578.10L344.80,578.10L341.20,585.30Z"/>
<path d="M342.82,565.60L350.02,565.60L346.42,572.80Z"/>
<path d="M348.04,537.20L355.24,537.20L351.64,544.40Z"/>
<path d="M353.27,591.40L360.47,591.40L356.87,598.60Z"/>
<path d="M358.49,575.40L365.69,575.40L362.09,582.60Z"/>
<path d="M363.72,580.40L370.92,580.40L367.32,587.60Z"/>
<path d="M368.94,553.70L376.14,553.70L372.54,560.90Z"/>
<path d="M374.16,569.40L381.36,569.40L377.76,576.60Z"/>
<path d="M379.39,534.10L386.59,534.10L382.99,541.30Z"/>
<path d="M384.61,552.10L391.81,552.10L388.21,559.30Z"/>
<path d="M389.84,512.80L397.04,512.80L393.44,520.00Z"/>
<path d="M395.06,507.30L402.26,507.30L398.66,514.50Z"/>
<path d="M400.28,493.50L407.48,493.50L403.88,500.70Z"/>
<path d="M405.51,480.20L412.71,480.20L409.11,487.40Z"/>
<path d="M410.73,531.20L417.93,531.20L414.33,538.40Z"/>
<path d="M415.96,492.20L423.16,492.20L419.56,499.40Z"/>
<path d="M421.18,537.40L428.38,537.40L424.78,544.60Z"/>
<path d="M426.40,532.20L433.60,532.20L430.00,539.40Z"/>
<path d="M431.63,513.40L438.83,513.40L435.23,520.60Z"/>
<path d="M436.85,556.20L444.05,556.20L440.45,563.40Z"/>
<path d="M442.08,532.00L449.28,532.00L445.68,539.20Z"/>
</g>
<polyline clip-path="url(#cc)" points="59.10,619.50 64.32,496.80 69.55,496.30 74.77,501.70 80.00,512.20 85.22,514.90 90.44,512.50 95.67,572.30 100.89,571.50 106.12,522.20 111.34,504.20 116.56,505.50 121.79,524.50 127.01,474.50 132.24,545.50 137.46,484.20 142.68,542.90 147.91,517.80 153.13,498.80 158.36,520.90 163.58,511.90 168.80,484.20 174.03,575.40 179.25,505.60 184.48,526.40 189.70,558.20 194.92,524.30 200.15,524.30 205.37,510.40 210.60,513.60 215.82,520.80 221.04,579.60 226.27,583.90 231.49,547.30 236.72,535.50 241.94,517.10 247.16,531.60 252.39,561.40 257.61,549.70 262.84,570.60 268.06,488.70 273.28,525.00 278.51,518.60 283.73,537.70 288.96,532.80 294.18,553.80 299.40,556.30 304.63,490.30 309.85,552.00 315.08,545.60 320.30,487.80 325.52,478.00 330.75,571.40 335.97,575.60 341.20,550.80 346.42,569.20 351.64,581.60 356.87,545.80 362.09,575.00 367.32,579.00 372.54,598.50 377.76,575.60 382.99,579.70 388.21,531.00 393.44,527.00 398.66,577.40 403.88,496.50 409.11,527.90 414.33,538.60 419.56,549.20 424.78,497.80 430.00,560.10 435.23,516.50 440.45,525.30 445.68,481.30" fill="none" stroke="#64B5CD" stroke-width="2" stroke-linejoin="round"/>
<g clip-path="url(#cc)" fill="#64B5CD">
<rect x="55.95" y="616.35" width="6.3" height="6.3"/>
<rect x="61.17" y="493.65" width="6.3" height="6.3"/>
<rect x="66.40" y="493.15" width="6.3" height="6.3"/>
<rect x="71.62" y="498.55" width="6.3" height="6.3"/>
<rect x="76.85" y="509.05" width="6.3" height="6.3"/>
<rect x="82.07" y="511.75" width="6.3" height="6.3"/>
<rect x="87.29" y="509.35" width="6.3" height="6.3"/>
<rect x="92.52" y="569.15" width="6.3" height="6.3"/>
<rect x="97.74" y="568.35" width="6.3" height="6.3"/>
<rect x="102.97" y="519.05" width="6.3" height="6.3"/>
<rect x="108.19" y="501.05" width="6.3" height="6.3"/>
<rect x="113.41" y="502.35" width="6.3" height="6.3"/>
<rect x="118.64" y="521.35" width="6.3" height="6.3"/>
<rect x="123.86" y="471.35" width="6.3" height="6.3"/>
<rect x="129.09" y="542.35" width="6.3" height="6.3"/>
<rect x="134.31" y="481.05" width="6.3" height="6.3"/>
<rect x="139.53" y="539.75" width="6.3" height="6.3"/>
<rect x="144.76" y="514.65" width="6.3" height="6.3"/>
<rect x="149.98" y="495.65" width="6.3" height="6.3"/>
<rect x="155.21" y="517.75" width="6.3" height="6.3"/>
<rect x="160.43" y="508.75" width="6.3" height="6.3"/>
<rect x="165.65" y="481.05" width="6.3" height="6.3"/>
<rect x="170.88" y="572.25" width="6.3" height="6.3"/>
<rect x="176.10" y="502.45" width="6.3" height="6.3"/>
<rect x="181.33" y="523.25" width="6.3" height="6.3"/>
<rect x="186.55" y="555.05" width="6.3" height="6.3"/>
<rect x="191.77" y="521.15" width="6.3" height="6.3"/>
<rect x="197.00" y="521.15" width="6.3" height="6.3"/>
<rect x="202.22" y="507.25" width="6.3" height="6.3"/>
<rect x="207.45" y="510.45" width="6.3" height="6.3"/>
<rect x="212.67" y="517.65" width="6.3" height="6.3"/>
<rect x="217.89" y="576.45" width="6.3" height="6.3"/>
<rect x="223.12" y="580.75" width="6.3" height="6.3"/>
<rect x="228.34" y="544.15" width="6.3" height="6.3"/>
<rect x="233.57" y="532.35" width="6.3" height="6.3"/>
<rect x="238.79" y="513.95" width="6.3" height="6.3"/>
<rect x="244.01" y="528.45" width="6.3" height="6.3"/>
<rect x="249.24" y="558.25" width="6.3" height="6.3"/>
<rect x="254.46" y="546.55" width="6.3" height="6.3"/>
<rect x="259.69" y="567.45" width="6.3" height="6.3"/>
<rect x="264.91" y="485.55" width="6.3" height="6.3"/>
<rect x="270.13" y="521.85" width="6.3" height="6.3"/>
<rect x="275.36" y="515.45" width="6.3" height="6.3"/>
<rect x="280.58" y="534.55" width="6.3" height="6.3"/>
<rect x="285.81" y="529.65" width="6.3" height="6.3"/>
<rect x="291.03" y="550.65" width="6.3" height="6.3"/>
<rect x="296.25" y="553.15" width="6.3" height="6.3"/>
<rect x="301.48" y="487.15" width="6.3" height="6.3"/>
<rect x="306.70" y="548.85" width="6.3" height="6.3"/>
<rect x="311.93" y="542.45" width="6.3" height="6.3"/>
<rect x="317.15" y="484.65" width="6.3" height="6.3"/>
<rect x="322.37" y="474.85" width="6.3" height="6.3"/>
<rect x="327.60" y="568.25" width="6.3" height="6.3"/>
<rect x="332.82" y="572.45" width="6.3" height="6.3"/>
<rect x="338.05" y="547.65" width="6.3" height="6.3"/>
<rect x="343.27" y="566.05" width="6.3" height="6.3"/>
<rect x="348.49" y="578.45" width="6.3" height="6.3"/>
<rect x="353.72" y="542.65" width="6.3" height="6.3"/>
<rect x="358.94" y="571.85" width="6.3" height="6.3"/>
<rect x="364.17" y="575.85" width="6.3" height="6.3"/>
<rect x="369.39" y="595.35" width="6.3" height="6.3"/>
<rect x="374.61" y="572.45" width="6.3" height="6.3"/>
<rect x="379.84" y="576.55" width="6.3" height="6.3"/>
<rect x="385.06" y="527.85" width="6.3" height="6.3"/>
<rect x="390.29" y="523.85" width="6.3" height="6.3"/>
<rect x="395.51" y="574.25" width="6.3" height="6.3"/>
<rect x="400.73" y="493.35" width="6.3" height="6.3"/>
<rect x="405.96" y="524.75" width="6.3" height="6.3"/>
<rect x="411.18" y="535.45" width="6.3" height="6.3"/>
<rect x="416.41" y="546.05" width="6.3" height="6.3"/>
<rect x="421.63" y="494.65" width="6.3" height="6.3"/>
<rect x="426.85" y="556.95" width="6.3" height="6.3"/>
<rect x="432.08" y="513.35" width="6.3" height="6.3"/>
<rect x="437.30" y="522.15" width="6.3" height="6.3"/>
<rect x="442.53" y="478.15" width="6.3" height="6.3"/>
</g>
<rect x="53.9" y="465.6" width="397.05" height="151.70" fill="none" stroke="#262626" stroke-width="1.25"/>
<line x1="59.10" y1="617.3" x2="59.10" y2="622.8" stroke="#262626" stroke-width="1.25"/>
<text x="59.10" y="633.0" font-size="9.7" fill="#262626" text-anchor="middle">1950</text>
<line x1="111.34" y1="617.3" x2="111.34" y2="622.8" stroke="#262626" stroke-width="1.25"/>
<text x="111.34" y="633.0" font-size="9.7" fill="#262626" text-anchor="middle">1960</text>
<line x1="163.58" y1="617.3" x2="163.58" y2="622.8" stroke="#262626" stroke-width="1.25"/>
<text x="163.58" y="633.0" font-size="9.7" fill="#262626" text-anchor="middle">1970</text>
<line x1="215.82" y1="617.3" x2="215.82" y2="622.8" stroke="#262626" stroke-width="1.25"/>
<text x="215.82" y="633.0" font-size="9.7" fill="#262626" text-anchor="middle">1980</text>
<line x1="268.06" y1="617.3" x2="268.06" y2="622.8" stroke="#262626" stroke-width="1.25"/>
<text x="268.06" y="633.0" font-size="9.7" fill="#262626" text-anchor="middle">1990</text>
<line x1="320.30" y1="617.3" x2="320.30" y2="622.8" stroke="#262626" stroke-width="1.25"/>
<text x="320.30" y="633.0" font-size="9.7" fill="#262626" text-anchor="middle">2000</text>
<line x1="372.54" y1="617.3" x2="372.54" y2="622.8" stroke="#262626" stroke-width="1.25"/>
<text x="372.54" y="633.0" font-size="9.7" fill="#262626" text-anchor="middle">2010</text>
<line x1="424.78" y1="617.3" x2="424.78" y2="622.8" stroke="#262626" stroke-width="1.25"/>
<text x="424.78" y="633.0" font-size="9.7" fill="#262626" text-anchor="middle">2020</text>
<line x1="48.4" y1="475.50" x2="53.9" y2="475.50" stroke="#262626" stroke-width="1.25"/>
<text x="45.4" y="479.10" font-size="9.7" fill="#262626" text-anchor="end">60</text>
<line x1="48.4" y1="507.72" x2="53.9" y2="507.72" stroke="#262626" stroke-width="1.25"/>
<text x="45.4" y="511.32" font-size="9.7" fill="#262626" text-anchor="end">50</text>
<line x1="48.4" y1="539.94" x2="53.9" y2="539.94" stroke="#262626" stroke-width="1.25"/>
<text x="45.4" y="543.54" font-size="9.7" fill="#262626" text-anchor="end">40</text>
<line x1="48.4" y1="572.16" x2="53.9" y2="572.16" stroke="#262626" stroke-width="1.25"/>
<text x="45.4" y="575.76" font-size="9.7" fill="#262626" text-anchor="end">30</text>
<line x1="48.4" y1="604.38" x2="53.9" y2="604.38" stroke="#262626" stroke-width="1.25"/>
<text x="45.4" y="607.98" font-size="9.7" fill="#262626" text-anchor="end">20</text>
<line x1="450.95" y1="598.00" x2="456.45" y2="598.00" stroke="#64B5CD" stroke-width="1.25"/>
<text x="459.45" y="601.60" font-size="9.7" fill="#64B5CD" text-anchor="start">540</text>
<line x1="450.95" y1="560.20" x2="456.45" y2="560.20" stroke="#64B5CD" stroke-width="1.25"/>
<text x="459.45" y="563.80" font-size="9.7" fill="#64B5CD" text-anchor="start">560</text>
<line x1="450.95" y1="522.40" x2="456.45" y2="522.40" stroke="#64B5CD" stroke-width="1.25"/>
<text x="459.45" y="526.00" font-size="9.7" fill="#64B5CD" text-anchor="start">580</text>
<line x1="450.95" y1="484.60" x2="456.45" y2="484.60" stroke="#64B5CD" stroke-width="1.25"/>
<text x="459.45" y="488.20" font-size="9.7" fill="#64B5CD" text-anchor="start">600</text>
<text x="27.9" y="541.0" font-size="13.6" fill="#262626" text-anchor="middle" transform="rotate(-90 27.9 541.0)">Surface net radiation / (J/m<tspan font-size="10" dy="-5.5" dx="0.3">2</tspan><tspan dy="5.5" dx="0.9">)</tspan></text>
<text x="491.6" y="541.0" font-size="13.6" fill="#64B5CD" text-anchor="middle" transform="rotate(-90 491.6 541.0)">Surface net solar radiation / (J/m<tspan font-size="10" dy="-5.5" dx="0.3">2</tspan><tspan dy="5.5" dx="0.9">)</tspan></text>
</svg></body></html>
